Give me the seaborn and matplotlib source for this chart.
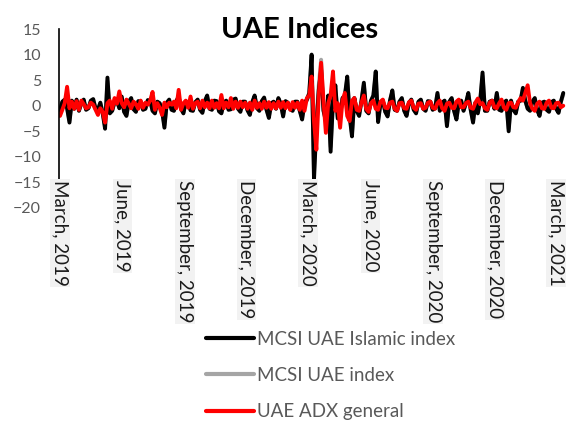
import matplotlib
matplotlib.use("Agg")
import matplotlib.pyplot as plt
import pandas as pd
import seaborn as sns

# Twice-weekly returns (%), March 2019 - March 2021
dates = pd.date_range("2019-03-01", periods=213, freq="84h")

islamic = [
    -1.0, 0.8, 1.2, -0.5, -3.3, 1.0, -0.6, 1.2, -1.0, 0.5,
    1.2, -0.8, -0.5, 1.0, 1.3, -0.6, -0.8, 0.6, -1.5, -4.5,
    5.5, -1.5, -1.0, 0.8, 1.0, -0.5, 1.8, -1.2, -2.0, 0.8,
    1.5, -0.7, -1.2, 0.9, 0.8, -0.8, -0.6, 1.1, 1.0, -1.0,
    -1.5, 0.8, 0.5, -1.0, -4.3, 0.6, 1.2, -0.8, -1.0, 0.9,
    1.8, -0.6, -1.5, 0.8, 0.6, -0.9, -1.0, 0.7, 1.2, -0.8,
    -1.4, 0.9, 2.0, -0.6, -0.8, 1.0, 0.9, -1.1, -1.5, 0.6,
    1.0, -0.8, -0.7, 1.2, 1.4, -0.6, -1.2, 0.8, 0.8, -0.9,
    -1.8, 0.7, 2.0, -0.5, -1.0, 0.9, 1.6, -0.8, -2.4, 0.5,
    0.8, -0.6, 1.5, 0.4, -2.1, 0.9, 0.6, -0.7, -1.0, 0.8,
    0.8, -1.0, -2.7, 0.6, 1.2, 2.5, 10.0, -14.5, -4.0, 3.0,
    7.0, -1.0, -3.0, 2.0, -9.0, 1.0, 4.0, -2.5, -2.0, 1.5,
    2.0, 5.7, -2.0, -6.0, 1.5, -1.0, -2.0, 1.0, 4.5, -1.0,
    -1.5, 1.0, 2.0, 6.7, -3.2, 0.5, 1.0, -1.2, -2.1, 1.0,
    3.0, -0.8, -1.0, 0.8, 1.5, -1.0, -2.0, 0.6, 1.2, -0.8,
    -1.5, 0.8, 1.2, -0.6, -1.0, 0.9, 0.8, -0.8, -0.5, 2.5,
    -1.0, 0.6, 1.0, -4.0, 0.8, 1.5, -1.0, -2.7, 0.6, 1.0,
    -1.0, 0.5, 2.5, -0.8, -3.3, 0.6, -1.5, 1.0, 6.5, -1.0,
    -1.0, 0.8, 1.0, -0.6, 2.5, -0.8, -1.0, 0.6, 1.0, -5.0,
    1.0, -0.8, -1.5, 0.8, 1.0, 3.5, 1.0, -0.6, -1.0, 0.8,
    1.5, -0.8, -2.0, 0.6, 0.8, -0.8, -1.2, 0.7, 1.0, -0.6,
    -1.4, 0.8, 2.5,
]

msci = [
    -0.8, 0.7, 1.0, -0.4, -2.9, 0.9, -0.5, 1.0, -0.9, 0.4,
    1.0, -0.7, -0.4, 0.9, 1.1, -0.5, -0.7, 0.5, -1.3, -4.0,
    4.8, -1.3, -0.9, 0.7, 0.9, -0.4, 1.6, -1.0, -1.8, 0.7,
    1.3, -0.6, -1.0, 0.8, 0.7, -0.7, -0.5, 1.0, 0.9, -0.9,
    -1.3, 0.7, 0.4, -0.9, -3.8, 0.5, 1.0, -0.7, -0.9, 0.8,
    1.6, -0.5, -1.3, 0.7, 0.5, -0.8, -0.9, 0.6, 1.0, -0.7,
    -1.2, 0.8, 1.8, -0.5, -0.7, 0.9, 0.8, -1.0, -1.3, 0.5,
    0.9, -0.7, -0.6, 1.0, 1.2, -0.5, -1.0, 0.7, 0.7, -0.8,
    -1.6, 0.6, 1.8, -0.4, -0.9, 0.8, 1.4, -0.7, -2.1, 0.4,
    0.7, -0.5, 1.3, 0.3, -1.9, 0.8, 0.5, -0.6, -0.9, 0.7,
    0.7, -0.9, -2.4, 0.5, 1.0, 2.2, 9.0, -13.0, -3.0, 4.0,
    9.0, -0.8, -2.6, 1.8, -8.0, 0.9, 3.6, -2.2, -1.8, 1.3,
    1.8, 5.2, -1.8, -5.4, 1.3, -0.9, -1.8, 0.9, 4.0, -0.9,
    -1.3, 0.9, 1.8, 6.0, -2.9, 0.4, 0.9, -1.1, -1.9, 0.9,
    2.7, -0.7, -0.9, 0.7, 1.3, -0.9, -1.8, 0.5, 1.1, -0.7,
    -1.3, 0.7, 1.1, -0.5, -0.9, 0.8, 0.7, -0.7, -0.4, 2.2,
    -0.9, 0.5, 0.9, -3.6, 0.7, 1.3, -0.9, -2.4, 0.5, 0.9,
    -0.9, 0.4, 2.2, -0.7, -3.0, 0.5, -1.3, 0.9, 5.8, -0.9,
    -0.9, 0.7, 0.9, -0.5, 2.2, -0.7, -0.9, 0.5, 0.9, -4.5,
    0.9, -0.7, -1.3, 0.7, 0.9, 3.2, 0.9, -0.5, -0.9, 0.7,
    1.3, -0.7, -1.8, 0.5, 0.7, -0.7, -1.1, 0.6, 0.9, -0.5,
    -1.3, 0.7, 2.2,
]

adx = [
    -2.0, -0.8, 0.5, 3.7, -0.5, 0.8, -0.6, 0.9, -0.8, 1.0,
    0.3, -0.5, -0.3, 0.6, 0.2, -0.8, -1.8, -0.5, -1.2, -3.3,
    0.5, 1.0, -0.6, 1.5, 0.4, 2.8, 0.5, -0.3, 1.2, 0.4,
    -0.5, 0.8, 0.3, -0.6, 1.0, -0.4, 0.6, 0.2, 1.0, 2.7,
    -0.8, 0.5, -0.4, -1.8, 0.6, -0.3, 0.6, 0.2, 0.8, -0.5,
    3.1, -0.8, 0.5, 1.0, -0.4, 1.8, -0.6, 0.5, 0.8, -0.5,
    1.0, -0.3, 0.6, -0.5, 1.0, -0.4, 0.5, -0.5, 2.1, -0.5,
    0.6, -0.3, 1.5, -0.6, 0.8, -0.4, 0.8, -0.3, 0.6, -0.6,
    0.6, -0.8, 1.0, -0.4, 0.5, -0.6, 0.8, -0.4, 0.7, -0.6,
    0.5, -0.5, 0.8, -0.4, 0.7, -0.5, 0.6, -0.8, 0.7, -0.4,
    0.6, -0.8, 1.0, -1.0, 1.5, 2.0, 5.7, -3.0, -8.6, 2.0,
    8.4, 1.0, -5.3, 0.5, 2.0, 6.7, -1.0, 0.5, -4.3, 1.0,
    2.5, -2.0, -3.0, 1.0, 1.5, -0.8, -1.0, 0.6, 2.0, -0.6,
    -1.2, 0.5, 1.0, -0.6, -0.8, 0.8, 1.2, -0.4, -0.5, 0.6,
    0.8, -0.6, -1.0, 0.5, 0.6, -0.5, -0.6, 0.7, 1.0, -0.4,
    -0.8, 0.4, 0.5, -0.6, -0.4, 0.6, 0.8, -0.4, -0.6, 0.5,
    1.0, -0.5, -1.0, 0.4, 0.6, -0.4, -0.5, 0.8, 1.2, -0.3,
    -0.3, 0.5, 0.8, -0.4, -0.6, 0.6, 1.4, 0.3, 0.5, -0.5,
    -0.8, 0.6, 1.0, -0.3, -0.5, 0.5, 1.2, -0.4, -0.8, 0.5,
    0.6, -0.3, -0.4, 0.7, 1.5, 1.0, 2.5, 4.0, 0.5, -0.6,
    -1.0, 0.4, 0.8, -0.5, -0.6, 0.6, 1.0, -0.4, -0.5, 0.5,
    0.6, -0.3, 0.0,
]

series_names = ["MCSI UAE Islamic index", "MCSI UAE index", "UAE ADX general"]
series_colors = ["#000000", "#a5a5a5", "#ff0000"]

tick_dates = pd.to_datetime([
    "2019-03-01", "2019-06-01", "2019-09-01", "2019-12-01", "2020-03-01",
    "2020-06-01", "2020-09-01", "2020-12-01", "2021-03-01",
])
tick_labels = [
    "March, 2019", "June, 2019", "September, 2019", "December, 2019",
    "March, 2020", "June, 2020", "September, 2020", "December, 2020",
    "March, 2021",
]

df = pd.DataFrame({"date": dates, series_names[0]: islamic,
                   series_names[1]: msci, series_names[2]: adx})

sns.set_theme(style="white")
plt.rcParams["font.family"] = ["Lato", "DejaVu Sans"]

fig = plt.figure(figsize=(5.69, 4.23), dpi=100)
ax = fig.add_axes([0.1042, 0.5083, 0.8905, 0.4231])

# grey under black, red on top
handles = {}
for idx in [1, 0, 2]:
    name = series_names[idx]
    sns.lineplot(data=df, x="date", y=name, color=series_colors[idx],
                 linewidth=2.8, ax=ax, label=name, legend=False)
    handles[name] = ax.lines[-1]

ax.set_xlim(pd.Timestamp("2019-02-28"), pd.Timestamp("2021-03-16"))
ax.set_ylim(-20, 15)
ax.set_yticks(range(-20, 16, 5))
ax.set_xticks(tick_dates)
ax.set_xticklabels(tick_labels, rotation=270, ha="center", va="top")
ax.set_xlabel("")
ax.set_ylabel("")

for side in ["top", "right", "bottom"]:
    ax.spines[side].set_visible(False)
ax.spines["left"].set_color("#000000")
ax.spines["left"].set_linewidth(1.2)
ax.set_axisbelow(False)

ax.tick_params(axis="y", length=0, pad=13, labelsize=11.5, labelcolor="#595959")
ax.tick_params(axis="x", length=0, pad=-20, labelsize=13.5, labelcolor="#1a1a1a")
for lab in ax.get_xticklabels():
    lab.set_bbox(dict(facecolor="#f2f2f2", edgecolor="none", pad=1.0))

fig.text(0.527, 0.929, "UAE Indices", ha="center", va="center",
         fontsize=21, fontweight="bold", color="#000000")

leg = fig.legend([handles[n] for n in series_names], series_names,
                 loc="upper left", bbox_to_anchor=(0.345, 0.240),
                 frameon=False, fontsize=13.5, handlelength=2.6,
                 handletextpad=0.16, labelspacing=1.02, borderpad=0)
for t in leg.get_texts():
    t.set_color("#595959")
for h in leg.get_lines():
    h.set_linewidth(3)

fig.savefig("out.png", dpi=100)
